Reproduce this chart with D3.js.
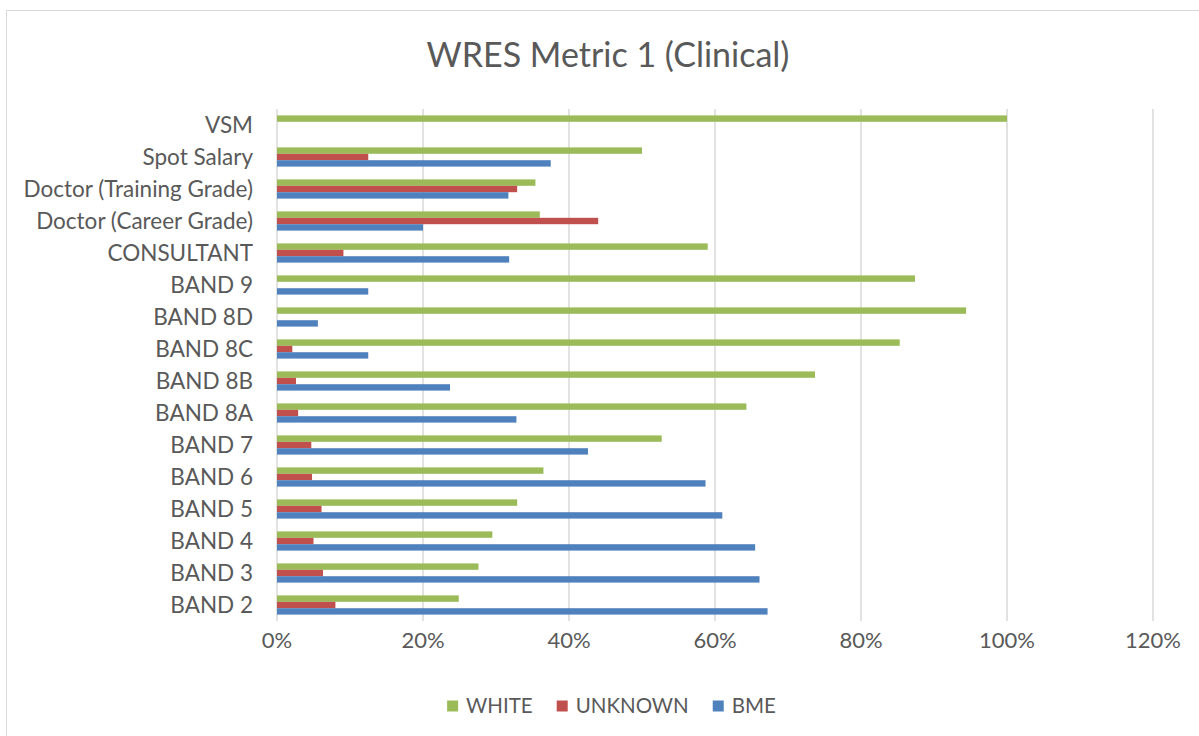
<!DOCTYPE html>
<html>
<head>
<meta charset="utf-8">
<script src="https://cdn.jsdelivr.net/npm/d3@7"></script>
<style>
  html, body { margin: 0; padding: 0; background: #ffffff; }
  svg { display: block; }
  text { font-family: Lato, "Open Sans", sans-serif; fill: #595959; }
</style>
</head>
<body>
<svg id="chart" width="1199" height="736"></svg>
<script>
// ---- data (top to bottom as displayed) ----
const categories = ["VSM", "Spot Salary", "Doctor (Training Grade)", "Doctor (Career Grade)", "CONSULTANT",
  "BAND 9", "BAND 8D", "BAND 8C", "BAND 8B", "BAND 8A", "BAND 7", "BAND 6", "BAND 5", "BAND 4", "BAND 3", "BAND 2"];
const seriesNames = ["WHITE", "UNKNOWN", "BME"];
const white   = [1.000, 0.500, 0.354, 0.360, 0.590, 0.874, 0.944, 0.853, 0.737, 0.643, 0.527, 0.365, 0.329, 0.295, 0.276, 0.249];
const unknown = [0.000, 0.125, 0.329, 0.440, 0.091, 0.000, 0.000, 0.021, 0.026, 0.029, 0.047, 0.048, 0.061, 0.050, 0.063, 0.080];
const bme     = [0.000, 0.375, 0.317, 0.200, 0.318, 0.125, 0.056, 0.125, 0.237, 0.328, 0.426, 0.587, 0.610, 0.655, 0.661, 0.672];
const xTicks  = [0, 0.2, 0.4, 0.6, 0.8, 1.0, 1.2];
const title   = "WRES Metric 1 (Clinical)";
const colors  = { WHITE: "#9BBB59", UNKNOWN: "#C0504D", BME: "#4F81BD" };

const valuesBySeries = { WHITE: white, UNKNOWN: unknown, BME: bme };

const svg = d3.select("#chart");

// chart area border
svg.append("rect")
  .attr("x", 6.5).attr("y", 10.5)
  .attr("width", 1250).attr("height", 800)
  .attr("fill", "#ffffff").attr("stroke", "#d9d9d9").attr("stroke-width", 1);

const plot = { left: 277, right: 1153, top: 109, bottom: 621 };

const x = d3.scaleLinear().domain([0, 1.2]).range([plot.left, plot.right]);
const y = d3.scaleBand().domain(categories).range([plot.top, plot.bottom])
  .paddingInner(0.4).paddingOuter(0.2);
const ySub = d3.scaleBand().domain(seriesNames).range([0, y.bandwidth()]).padding(0);

// gridlines
svg.append("g")
  .selectAll("line").data(xTicks).join("line")
  .attr("x1", d => x(d)).attr("x2", d => x(d))
  .attr("y1", plot.top).attr("y2", plot.bottom)
  .attr("stroke", "#d9d9d9").attr("stroke-width", 1.5);

// bars
const rows = [];
categories.forEach((c, i) => {
  seriesNames.forEach(s => rows.push({ cat: c, series: s, value: valuesBySeries[s][i] }));
});
svg.append("g")
  .selectAll("rect").data(rows.filter(d => d.value > 0)).join("rect")
  .attr("x", x(0))
  .attr("y", d => y(d.cat) + ySub(d.series))
  .attr("width", d => x(d.value) - x(0))
  .attr("height", ySub.bandwidth())
  .attr("fill", d => colors[d.series]);

// category labels
svg.append("g")
  .selectAll("text").data(categories).join("text")
  .attr("x", 253)
  .attr("y", d => y(d) + y.bandwidth() / 2)
  .attr("dy", "0.36em")
  .attr("text-anchor", "end")
  .style("font-size", "22.5px")
  .text(d => d);

// x tick labels
const fmt = d3.format(".0%");
svg.append("g")
  .selectAll("text").data(xTicks).join("text")
  .attr("x", d => x(d))
  .attr("y", 648)
  .attr("text-anchor", "middle")
  .style("font-size", "22px")
  .text(d => fmt(d));

// title
svg.append("text")
  .attr("x", 608).attr("y", 67)
  .attr("text-anchor", "middle")
  .style("font-size", "34px")
  .text(title);

// legend
const legend = svg.append("g");
let lx = 0;
seriesNames.forEach(s => {
  const g = legend.append("g").attr("transform", `translate(${lx},0)`);
  g.append("rect").attr("x", 0).attr("y", -5.5).attr("width", 11).attr("height", 11).attr("fill", colors[s]);
  const t = g.append("text").attr("x", 19).attr("y", 0).attr("dy", "0.36em")
    .style("font-size", "20.5px").text(s);
  const w = t.node().getComputedTextLength();
  lx += 19 + w + 24;
});
const totalW = lx - 24;
legend.attr("transform", `translate(${611.5 - totalW / 2},706)`);
</script>
</body>
</html>
